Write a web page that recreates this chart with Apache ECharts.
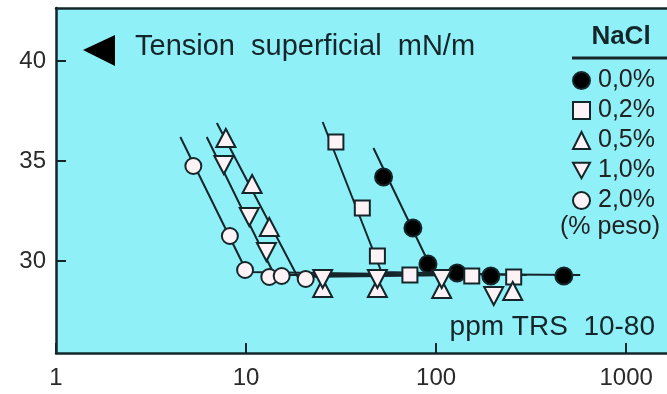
<!DOCTYPE html>
<html>
<head>
<meta charset="utf-8">
<script src="https://cdn.jsdelivr.net/npm/echarts@6/dist/echarts.min.js"></script>
<style>
  html, body { margin: 0; padding: 0; background: #fff; }
  #chart { width: 667px; height: 394px; }
</style>
</head>
<body>
<div id="chart"></div>
<script>
// ppm TRS vs tension superficial (mN/m), una serie por % NaCl
const seriesNames = ['0,0%', '0,2%', '0,5%', '1,0%', '2,0%'];

const pts00 = [[52.9, 34.2], [75.5, 31.65], [90.6, 29.85], [129, 29.4], [194, 29.25], [470, 29.25]];
const pts02 = [[29.7, 35.95], [40.9, 32.65], [49.1, 30.25], [72.8, 29.3], [154, 29.25], [256, 29.2]];
const pts05 = [[7.83, 36.15], [10.76, 33.85], [13.25, 31.7], [25.3, 28.65], [49.1, 28.65], [107, 28.6], [253, 28.5]];
const pts10 = [[7.64, 34.8], [10.4, 32.2], [12.8, 30.45], [25.3, 29.1], [49.1, 29.1], [107, 29.1], [201, 28.25]];
const pts20 = [[5.28, 34.75], [8.22, 31.25], [9.88, 29.55], [13.25, 29.2], [15.4, 29.25], [20.6, 29.1]];

// rectas de ajuste: inicio, quiebre, fin de meseta
const fit00 = [[46.8, 35.65], [97.5, 29.35], [573, 29.3]];
const fit02 = [[25.3, 36.95], [51.6, 29.45], [300, 29.3]];
const fit05 = [[7.02, 36.9], [18.7, 29.2], [140, 29.3]];
const fit10 = [[6.21, 36.2], [14.1, 29.3], [140, 29.3]];
const fit20 = [[4.51, 36.2], [10.1, 29.45], [140, 29.3]];

const xTicks = [1, 10, 100, 1000];
const yTicks = [30, 35, 40];

const ink = '#15262b';
const fillWhite = '#fdf3f6';
const font = 'Liberation Sans, Arial, sans-serif';

const chart = echarts.init(document.getElementById('chart'), null, { renderer: 'canvas' });

const fitLine = (name, data) => ({
  name: name,
  type: 'line',
  data: data,
  showSymbol: false,
  symbol: 'none',
  lineStyle: { color: ink, width: 2 },
  z: 2,
  silent: true
});

const marks = (name, data, symbol, size, fill) => ({
  name: name,
  type: 'scatter',
  data: data,
  symbol: symbol,
  symbolSize: size,
  itemStyle: { color: fill, borderColor: ink, borderWidth: 2, opacity: 1 },
  z: 5
});

const option = {
  backgroundColor: '#ffffff',
  animation: false,
  grid: {
    left: 56,
    top: 8,
    right: 0,
    height: 345,
    show: true,
    backgroundColor: '#90f0f8',
    borderWidth: 0
  },
  xAxis: [
    {
      type: 'log',
      logBase: 10,
      min: 1,
      max: 1640,
      axisLine: { lineStyle: { color: ink, width: 2.5 } },
      axisTick: { inside: true, length: 10, lineStyle: { color: ink, width: 2 } },
      minorTick: { show: false },
      splitLine: { show: false },
      axisLabel: {
        color: '#2a2a2a',
        fontFamily: font,
        fontSize: 24,
        margin: 13,
        showMaxLabel: false,
        formatter: v => xTicks.includes(Math.round(v)) ? String(Math.round(v)) : ''
      }
    },
    {
      // solo el borde superior del marco
      type: 'log',
      logBase: 10,
      position: 'top',
      min: 1,
      max: 1640,
      axisLine: { show: true, lineStyle: { color: ink, width: 2.5 } },
      axisTick: { show: false },
      axisLabel: { show: false },
      splitLine: { show: false }
    }
  ],
  yAxis: {
    type: 'value',
    min: 25.4,
    max: 42.65,
    axisLine: { show: true, lineStyle: { color: ink, width: 2.5 } },
    axisTick: { inside: true, length: 10, customValues: yTicks, lineStyle: { color: ink, width: 2 } },
    splitLine: { show: false },
    axisLabel: {
      color: '#2a2a2a',
      fontFamily: font,
      fontSize: 24,
      margin: 10,
      customValues: yTicks
    }
  },
  legend: {
    data: seriesNames,
    orient: 'vertical',
    left: 572,
    top: 68,
    padding: 0,
    itemWidth: 17,
    itemHeight: 17,
    itemGap: 5,
    textStyle: { color: '#222', fontFamily: font, fontSize: 25, padding: [0, 0, 0, 3] }
  },
  graphic: [
    {
      type: 'polygon',
      shape: { points: [[83, 50], [115, 35], [115, 66]] },
      style: { fill: '#000' }
    },
    {
      type: 'text',
      x: 135, y: 47,
      style: { text: 'Tension  superficial  mN/m', fill: ink, font: '29px ' + font, verticalAlign: 'middle' }
    },
    {
      type: 'text',
      x: 621, y: 37,
      style: { text: 'NaCl', fill: ink, font: 'bold 26px ' + font, align: 'center', verticalAlign: 'middle' }
    },
    {
      type: 'line',
      shape: { x1: 572, y1: 58, x2: 667, y2: 58 },
      style: { stroke: ink, lineWidth: 3 }
    },
    {
      type: 'text',
      x: 560, y: 227,
      style: { text: '(% peso)', fill: '#222', font: '25px ' + font, verticalAlign: 'middle' }
    },
    {
      type: 'text',
      x: 655, y: 327,
      style: { text: 'ppm TRS  10-80', fill: ink, font: '28px ' + font, align: 'right', verticalAlign: 'middle' }
    }
  ],
  series: [
    fitLine('fit 0,0%', fit00),
    fitLine('fit 0,2%', fit02),
    fitLine('fit 0,5%', fit05),
    fitLine('fit 1,0%', fit10),
    fitLine('fit 2,0%', fit20),
    marks('0,0%', pts00, 'circle', 17, '#000000'),
    marks('0,2%', pts02, 'rect', 15, fillWhite),
    marks('0,5%', pts05, 'triangle', [19, 18], fillWhite),
    marks('1,0%', pts10, 'path://M0,0L10,0L5,9Z', [19, 18], fillWhite),
    marks('2,0%', pts20, 'circle', 16, fillWhite)
  ]
};

chart.setOption(option);
</script>
</body>
</html>
